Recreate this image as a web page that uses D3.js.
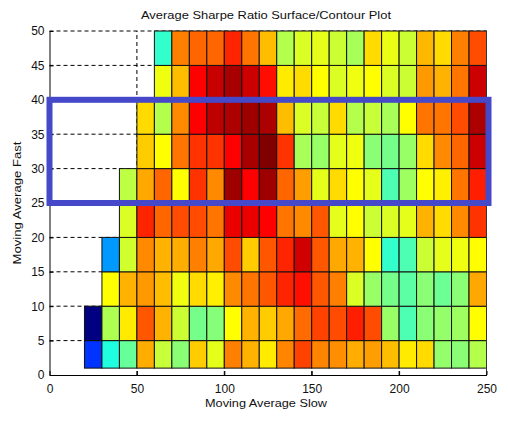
<!DOCTYPE html>
<html>
<head>
<meta charset="utf-8">
<script src="https://cdn.jsdelivr.net/npm/d3@7"></script>
<style>
  body { margin: 0; background: #fff; }
  svg { display: block; }
  text { font-family: "Liberation Sans", Arial, sans-serif; }
</style>
</head>
<body>
<script>
// Bin edges of the parameter sweep
const slowEdges = [20, 30, 40, 50, 60, 70, 80, 90, 100, 110, 120, 130, 140, 150,
                   160, 170, 180, 190, 200, 210, 220, 230, 240, 250];
const fastEdges = [1, 5, 10, 15, 20, 25, 30, 35, 40, 45, 50];

// Tick labels
const xTicks = [0, 50, 100, 150, 200, 250];
const yTicks = [0, 5, 10, 15, 20, 25, 30, 35, 40, 45, 50];

// Average Sharpe ratio (normalised to the colour range), one row per fast band,
// one entry per slow band; null where the fast average is not below the slow one.
const sharpe = [
  /* 1-5   */ [0.175, 0.405, 0.475, 0.705, 0.57, 0.51, 0.675, 0.6, 0.75, 0.7, 0.645, 0.745, 0.81, 0.745, 0.735, 0.705, 0.72, 0.69, 0.645, 0.66, 0.52, 0.51, 0.55],
  /* 5-10  */ [0.0, 0.545, 0.645, 0.79, 0.7, 0.575, 0.49, 0.505, 0.625, 0.7, 0.675, 0.71, 0.77, 0.81, 0.8, 0.845, 0.8, 0.525, 0.45, 0.51, 0.52, 0.53, 0.625],
  /* 10-15 */ [null, 0.625, 0.7, 0.725, 0.69, 0.61, 0.66, 0.64, 0.74, 0.76, 0.79, 0.84, 0.86, 0.79, 0.75, 0.59, 0.525, 0.49, 0.465, 0.51, 0.48, 0.51, 0.71],
  /* 15-20 */ [null, 0.275, 0.58, 0.74, 0.7, 0.705, 0.75, 0.71, 0.8, 0.675, 0.79, 0.84, 0.92, 0.79, 0.71, 0.7, 0.625, 0.425, 0.45, 0.575, 0.6, 0.61, 0.625],
  /* 20-25 */ [null, null, 0.59, 0.84, 0.775, 0.8, 0.8, 0.76, 0.895, 0.895, 0.875, 0.76, 0.74, 0.79, 0.6, 0.625, 0.575, 0.59, 0.6, 0.7, 0.66, 0.74, 0.825],
  /* 25-30 */ [null, null, 0.56, 0.71, 0.775, 0.625, 0.825, 0.74, 0.97, 0.875, 0.97, 0.775, 0.72, 0.6, 0.66, 0.625, 0.6, 0.45, 0.53, 0.625, 0.64, 0.76, 0.845],
  /* 30-35 */ [null, null, null, 0.675, 0.625, 0.76, 0.825, 0.825, 0.875, 0.96, 1.0, 0.825, 0.54, 0.525, 0.6, 0.61, 0.51, 0.49, 0.525, 0.66, 0.74, 0.775, 0.925],
  /* 35-40 */ [null, null, null, 0.66, 0.55, 0.74, 0.875, 0.94, 0.955, 0.97, 0.955, 0.69, 0.59, 0.57, 0.66, 0.55, 0.57, 0.54, 0.625, 0.76, 0.76, 0.8, 0.955],
  /* 40-45 */ [null, null, null, null, 0.61, 0.69, 0.875, 0.93, 0.96, 0.925, 0.8625, 0.645, 0.66, 0.625, 0.59, 0.61, 0.625, 0.59, 0.575, 0.725, 0.7, 0.76, 0.925],
  /* 45-50 */ [null, null, null, null, 0.425, 0.75, 0.775, 0.775, 0.84, 0.76, 0.69, 0.55, 0.59, 0.6, 0.575, 0.54, 0.66, 0.605, 0.575, 0.695, 0.66, 0.75, 0.8]
];

// Highlighted band of fast averages
const highlightFast = [25, 40];

const W = 508, H = 423;

// MATLAB-style "jet" colour map
function jet(t) {
  const c = v => Math.max(0, Math.min(1, v));
  const r = c(1.5 - Math.abs(4 * t - 3));
  const g = c(1.5 - Math.abs(4 * t - 2));
  const b = c(1.5 - Math.abs(4 * t - 1));
  return d3.rgb(r * 255, g * 255, b * 255).toString();
}
const color = d3.scaleSequential(jet).domain([0, 1]);

const x = d3.scaleLinear().domain([0, 250]).range([49.5, 486.5]);
const y = d3.scaleLinear().domain([0, 50]).range([375, 31]);

const svg = d3.select("body").append("svg")
  .attr("width", W).attr("height", H);

// Dashed grid (under the surface)
const grid = svg.append("g")
  .attr("stroke", "#000").attr("stroke-width", 1).attr("stroke-dasharray", "4,3");
grid.selectAll("line.h").data(yTicks.slice(1)).join("line")
  .attr("class", "h")
  .attr("x1", x(0)).attr("x2", x(250))
  .attr("y1", d => y(d)).attr("y2", d => y(d));
grid.selectAll("line.v").data(xTicks.slice(1, -1)).join("line")
  .attr("class", "v")
  .attr("y1", y(0)).attr("y2", y(50))
  .attr("x1", d => x(d)).attr("x2", d => x(d));

// Surface cells
const cells = [];
sharpe.forEach((row, r) => row.forEach((v, c) => {
  if (v !== null) cells.push({ r, c, v });
}));
svg.append("g").selectAll("rect").data(cells).join("rect")
  .attr("x", d => x(slowEdges[d.c]))
  .attr("y", d => y(fastEdges[d.r + 1]))
  .attr("width", d => x(slowEdges[d.c + 1]) - x(slowEdges[d.c]))
  .attr("height", d => y(fastEdges[d.r]) - y(fastEdges[d.r + 1]))
  .attr("fill", d => color(d.v))
  .attr("stroke", "#111")
  .attr("stroke-width", 1);

// Right frame edge
svg.append("line")
  .attr("x1", x(250)).attr("x2", x(250))
  .attr("y1", y(0)).attr("y2", y(50))
  .attr("stroke", "#333").attr("stroke-width", 1);

// Axes
const xAxis = svg.append("g")
  .attr("transform", `translate(0,${y(0)})`)
  .call(d3.axisBottom(x).tickValues(xTicks).tickFormat(d3.format("d"))
    .tickSizeInner(-4).tickSizeOuter(0).tickPadding(9));
const yAxis = svg.append("g")
  .attr("transform", `translate(${x(0)},0)`)
  .call(d3.axisLeft(y).tickValues(yTicks).tickFormat(d3.format("d"))
    .tickSizeInner(-4).tickSizeOuter(0).tickPadding(5));
[xAxis, yAxis].forEach(g => {
  g.selectAll("path.domain").attr("stroke", "#000").attr("stroke-width", 1);
  g.selectAll(".tick line").attr("stroke", "#000");
  g.selectAll(".tick text").attr("font-size", 12)
    .attr("font-family", "'Liberation Sans', Arial, sans-serif").attr("fill", "#111");
});

// Highlight frame around a band of fast averages
svg.append("rect")
  .attr("x", x(0))
  .attr("y", y(highlightFast[1]))
  .attr("width", x(250) - x(0) + 2)
  .attr("height", y(highlightFast[0]) - y(highlightFast[1]))
  .attr("fill", "none")
  .attr("stroke", "#4548c8")
  .attr("stroke-width", 6);

// Title and axis labels
const cx = (x(0) + x(250)) / 2;
svg.append("text")
  .attr("x", cx - 2).attr("y", 19)
  .attr("text-anchor", "middle")
  .attr("font-size", 11).attr("fill", "#111")
  .attr("textLength", 250).attr("lengthAdjust", "spacingAndGlyphs")
  .text("Average Sharpe Ratio Surface/Contour Plot");
svg.append("text")
  .attr("x", cx - 2).attr("y", 407)
  .attr("text-anchor", "middle")
  .attr("font-size", 11).attr("fill", "#111")
  .attr("textLength", 122).attr("lengthAdjust", "spacingAndGlyphs")
  .text("Moving Average Slow");
svg.append("text")
  .attr("transform", `translate(21,${(y(0) + y(50)) / 2}) rotate(-90)`)
  .attr("text-anchor", "middle")
  .attr("font-size", 11).attr("fill", "#111")
  .attr("textLength", 123).attr("lengthAdjust", "spacingAndGlyphs")
  .text("Moving Average Fast");
</script>
</body>
</html>
